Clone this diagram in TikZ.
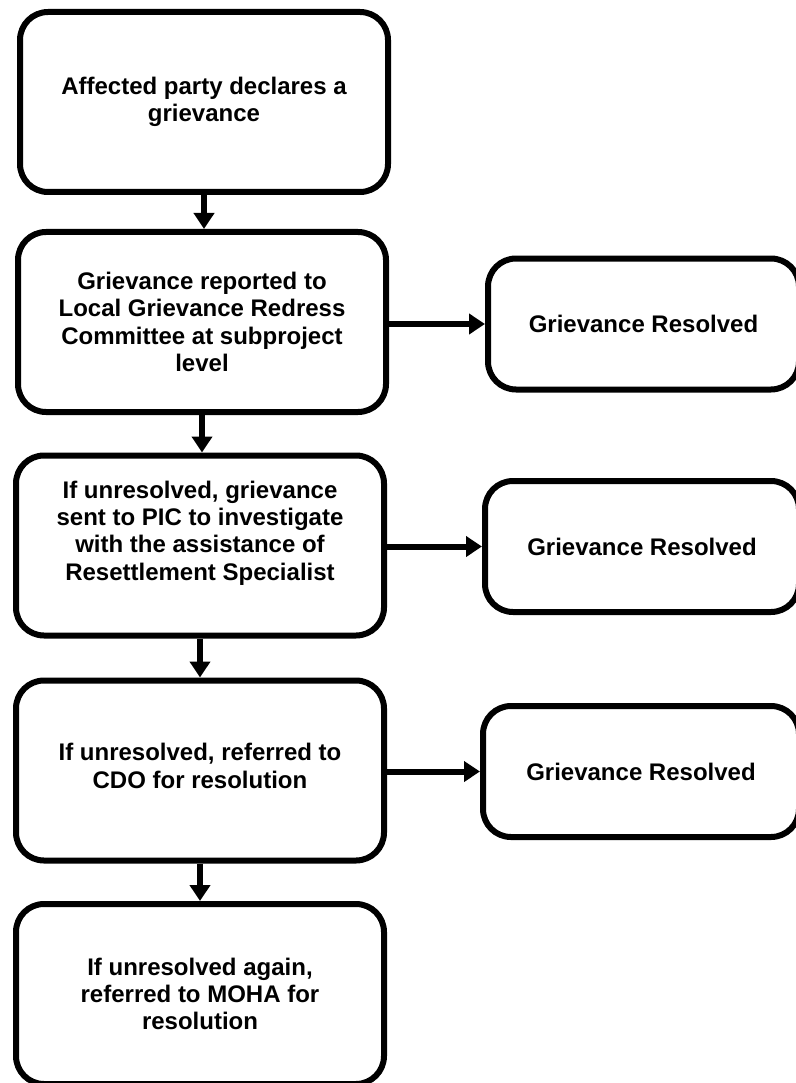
\documentclass[tikz,border=0pt]{standalone}
\usepackage{fontspec}
\setmainfont{Liberation Sans}
\usetikzlibrary{arrows.meta}
\begin{document}
\begin{tikzpicture}[x=1pt,y=-1pt,
  box/.style={draw=black, line width=6pt, rounded corners=28pt, fill=white,
    align=center, inner sep=0pt, font=\fontsize{24}{27.3}\selectfont\bfseries},
  mainbox/.style={box, minimum width=368pt, minimum height=180pt},
  resbox/.style={box, minimum height=131pt},
  txt/.style={align=center, inner sep=0pt, font=\fontsize{24}{27.3}\selectfont\bfseries},
  arr/.style={line width=6pt, -{Triangle[width=20pt,length=16pt]}}]
\useasboundingbox (0,0) rectangle (795,1083);
\node[mainbox] (b1) at (204,102) {Affected party declares a\\grievance};
\node[mainbox] (b2) at (202,322) {Grievance reported to\\Local Grievance Redress\\Committee at subproject\\level};
\node[mainbox] (b3) at (200,545.5) {};
\node[txt] (t3) at (200,533) {If unresolved, grievance\\sent to PIC to investigate\\with the assistance of\\Resettlement Specialist};
\node[mainbox] (b4) at (200,770.5) {};
\node[txt] (t4) at (200,766) {If unresolved, referred to\\CDO for resolution};
\node[mainbox] (b5) at (200,994) {If unresolved again,\\referred to MOHA for\\resolution};
\node[resbox, minimum width=311pt] (r1) at (643.5,324) {Grievance Resolved};
\node[resbox, minimum width=314pt] (r2) at (642,546.5) {Grievance Resolved};
\node[resbox, minimum width=316pt] (r3) at (641,771.5) {Grievance Resolved};
\draw[arr] (b1.south) -- (b1.south |- b2.north);
\draw[arr] (b2.south) -- (b2.south |- b3.north);
\draw[arr] (b3.south) -- (b3.south |- b4.north);
\draw[arr] (b4.south) -- (b4.south |- b5.north);
\draw[arr] (b2.east |- r1.west) -- (r1.west);
\draw[arr] (b3.east |- r2.west) -- (r2.west);
\draw[arr] (b4.east |- r3.west) -- (r3.west);
\end{tikzpicture}
\end{document}
